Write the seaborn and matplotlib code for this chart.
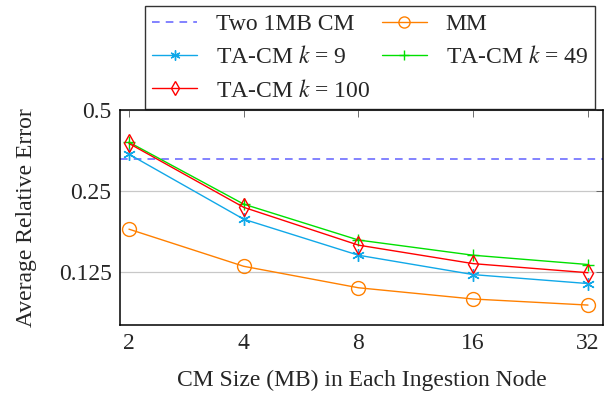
import matplotlib
matplotlib.use("Agg")
import matplotlib.pyplot as plt
import seaborn as sns
import pandas as pd
from matplotlib.ticker import FixedLocator, FixedFormatter, NullLocator

sizes = [2, 4, 8, 16, 32]
two_1mb_cm = 0.329
mm = [0.180, 0.131, 0.109, 0.099, 0.094]
ta_k9 = [0.342, 0.196, 0.144, 0.122, 0.113]
ta_k49 = [0.379, 0.223, 0.164, 0.144, 0.133]
ta_k100 = [0.375, 0.217, 0.157, 0.134, 0.124]
x_ticks = [2, 4, 8, 16, 32]
y_ticks = [0.125, 0.25, 0.5]
y_tick_labels = ["0.125", "0.25", "0.5"]

sns.set_theme(style="white")
plt.rcParams["font.family"] = ["Liberation Serif", "DejaVu Serif"]
plt.rcParams["mathtext.fontset"] = "stix"

fig = plt.figure(figsize=(6.12, 3.95), dpi=100)
ax = fig.add_axes([0.196, 0.177, 0.789, 0.545])

fs = 17
series = [
    ("MM", mm, "#ff8000", "o"),
    (r"TA-CM $k$ = 9", ta_k9, "#10a8e8", (6, 2, 0)),
    (r"TA-CM $k$ = 49", ta_k49, "#00e000", "+"),
    (r"TA-CM $k$ = 100", ta_k100, "#ff0000", "d"),
]
handles = {}
dash = ax.axhline(two_1mb_cm, color="#6060ff", lw=1.1, ls=(0, (5, 4)), label="Two 1MB CM")
handles["Two 1MB CM"] = dash
for name, vals, col, mk in series:
    df = pd.DataFrame({"x": sizes, "y": vals})
    sns.lineplot(data=df, x="x", y="y", ax=ax, color=col, lw=1.0,
                 marker=mk, markersize=10 if mk == "o" else 9,
                 markerfacecolor="none" if mk in ("o", "d") else col,
                 markeredgecolor=col, markeredgewidth=1.0, label=name, legend=False)
    handles[name] = ax.lines[-1]

ax.set_xscale("log", base=2)
ax.set_yscale("log", base=2)
ax.set_xlim(1.894, 35.0)
ax.set_ylim(0.0792, 0.5)
ax.xaxis.set_major_locator(FixedLocator(x_ticks))
ax.xaxis.set_major_formatter(FixedFormatter([str(v) for v in x_ticks]))
ax.xaxis.set_minor_locator(NullLocator())
ax.yaxis.set_major_locator(FixedLocator(y_ticks))
ax.yaxis.set_major_formatter(FixedFormatter(y_tick_labels))
ax.yaxis.set_minor_locator(NullLocator())
ax.grid(axis="y", color="#c8c8c8", lw=0.9)
ax.grid(axis="x", visible=False)
ax.tick_params(direction="in", length=5, width=0.6, color="#555555", top=True, right=True,
               labelsize=fs, pad=6)
for s in ax.spines.values():
    s.set_linewidth(1.1)
    s.set_color("black")
ax.set_xlabel("CM Size (MB) in Each Ingestion Node", fontsize=fs, labelpad=11)
ax.set_ylabel("Average Relative Error", fontsize=fs, labelpad=16)

order = ["Two 1MB CM", r"TA-CM $k$ = 9", r"TA-CM $k$ = 100", "MM", r"TA-CM $k$ = 49"]
leg = ax.legend([handles[k] for k in order], order, ncol=2, loc="lower left",
                bbox_to_anchor=(0.052, 1.005), fontsize=fs, frameon=True, fancybox=False,
                edgecolor="black", handlelength=1.9, handletextpad=0.8, columnspacing=0.5,
                labelspacing=0.48, borderpad=0.3, borderaxespad=0, markerscale=0.8)
leg.get_frame().set_linewidth(1.0)

fig.savefig("out.png", dpi=100)
